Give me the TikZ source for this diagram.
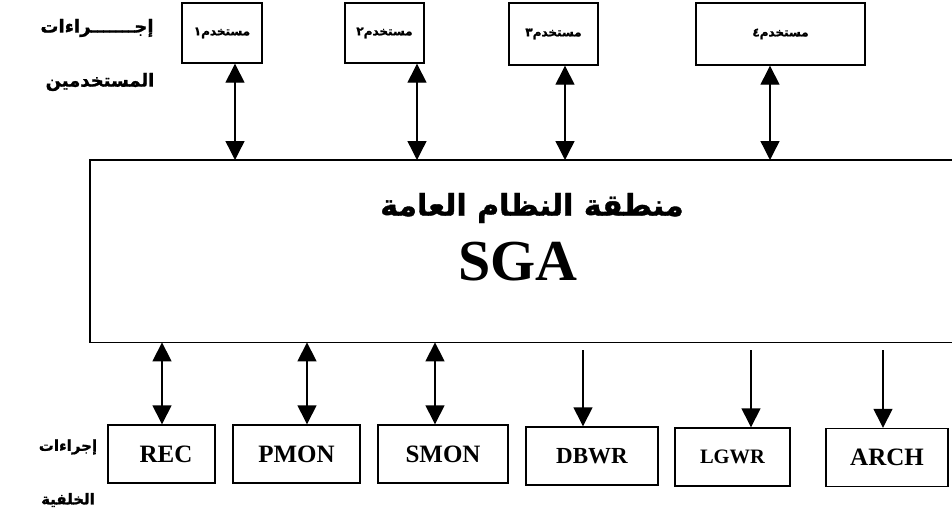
\documentclass[tikz,border=0pt]{standalone}
\usepackage{fontspec}
\setmainfont{Liberation Serif}
\newfontfamily\arabicfont[Script=Arabic,BoldFont={DejaVu Sans Bold},BoldFeatures={FakeBold=1.2}]{DejaVu Sans}
\TeXXeTstate=1
\usetikzlibrary{arrows.meta}
\begin{document}
\begin{tikzpicture}[x=1pt,y=-1pt,
  ubox/.style={draw,line width=1.4pt,minimum height=60pt,inner sep=0pt,font=\arabicfont\bfseries\fontsize{12}{14}\selectfont},
  pbox/.style={draw,line width=1.4pt,minimum height=58pt,inner sep=0pt,font=\bfseries\fontsize{25}{28}\selectfont},
  lbl/.style={font=\arabicfont\bfseries\fontsize{15}{18}\selectfont,inner sep=0pt},
  conn/.style={line width=1.4pt},
  >={Triangle[width=19pt,length=19pt]}]
\clip (0,0) rectangle (952,511);
\fill[white] (0,0) rectangle (952,511);
% SGA area (open on the right)
\node[inner sep=0pt,minimum width=900pt,minimum height=182pt,anchor=north west] (sga) at (90,160) {};
\draw[line width=1.6pt] (sga.north east) -- (sga.north west) -- (sga.south west) -- (sga.south east);
\node[font=\arabicfont\bfseries\fontsize{30}{36}\selectfont,inner sep=0pt] (sgaar) at (532,208) {\beginR منطقة النظام العامة\endR};
\node[font=\bfseries\fontsize{58}{64}\selectfont,inner sep=0pt] (sgaen) at (518,262) {SGA};
% user processes
\node[ubox,minimum width=80pt] (u1) at (222,33) {\beginR مستخدم١\endR};
\node[ubox,minimum width=79pt] (u2) at (384.5,33) {\beginR مستخدم٢\endR};
\node[ubox,minimum width=89pt,minimum height=62pt] (u3) at (553.5,34) {\beginR مستخدم٣\endR};
\node[ubox,minimum width=169pt,minimum height=62pt] (u4) at (780.5,34) {\beginR مستخدم٤\endR};
\node[lbl,font=\arabicfont\bfseries\fontsize{18}{22}\selectfont] (ul1) at (97,28) {\beginR إجـــــــراءات\endR};
\node[lbl,font=\arabicfont\bfseries\fontsize{18}{22}\selectfont] (ul2) at (100,82) {\beginR المستخدمين\endR};
% background processes
\node[pbox,minimum width=107pt] (rec) at (161.5,454) {\hspace*{9pt}REC};
\node[pbox,minimum width=127pt] (pmon) at (296.5,454) {PMON};
\node[pbox,minimum width=130pt] (smon) at (443,454) {SMON};
\node[pbox,minimum width=132pt,font=\bfseries\fontsize{23}{26}\selectfont] (dbwr) at (592,456) {DBWR};
\node[pbox,minimum width=115pt,font=\bfseries\fontsize{20.5}{24}\selectfont] (lgwr) at (732.5,457) {LGWR};
\node[pbox,minimum width=122pt] (arch) at (887,457.5) {ARCH};
\node[lbl] (bl1) at (68,447) {\beginR إجراءات\endR};
\node[lbl] (bl2) at (68,500) {\beginR الخلفية\endR};
% connectors top
\draw[conn,<->] ([xshift=13pt]u1.south) -- ([xshift=13pt]u1.south |- sga.north);
\draw[conn,<->] ([xshift=32.5pt]u2.south) -- ([xshift=32.5pt]u2.south |- sga.north);
\draw[conn,<->] ([xshift=11.5pt]u3.south) -- ([xshift=11.5pt]u3.south |- sga.north);
\draw[conn,<->] ([xshift=-10.5pt]u4.south) -- ([xshift=-10.5pt]u4.south |- sga.north);
% connectors bottom
\draw[conn,<->] ([xshift=0.5pt]rec.north |- sga.south) -- ([xshift=0.5pt]rec.north);
\draw[conn,<->] ([xshift=10.5pt]pmon.north |- sga.south) -- ([xshift=10.5pt]pmon.north);
\draw[conn,<->] ([xshift=-8pt]smon.north |- sga.south) -- ([xshift=-8pt]smon.north);
\draw[conn,->] ([xshift=-9pt,yshift=-8pt]dbwr.north |- sga.south) -- ([xshift=-9pt]dbwr.north);
\draw[conn,->] ([xshift=18.5pt,yshift=-8pt]lgwr.north |- sga.south) -- ([xshift=18.5pt]lgwr.north);
\draw[conn,->] ([xshift=-4pt,yshift=-8pt]arch.north |- sga.south) -- ([xshift=-4pt]arch.north);
\end{tikzpicture}
\end{document}
